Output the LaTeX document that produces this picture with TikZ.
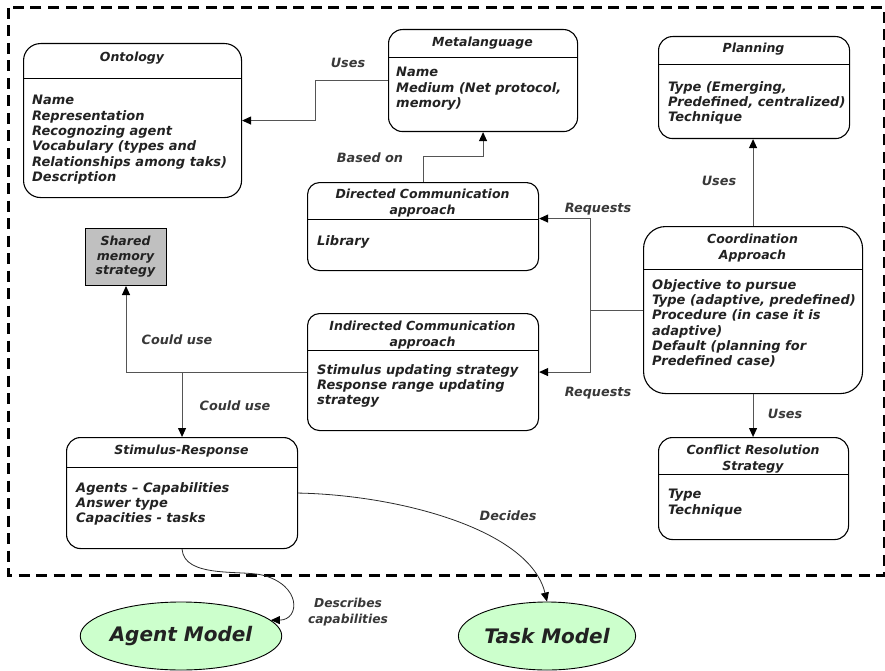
\documentclass[tikz,border=0pt]{standalone}
\usepackage{fontspec}
\setmainfont{DejaVu Sans}
\usetikzlibrary{arrows.meta,shapes.geometric,calc}
\definecolor{ink}{HTML}{222222}
\definecolor{wire}{HTML}{555555}
\definecolor{modelgreen}{HTML}{CCFFCC}
\definecolor{sharedgray}{HTML}{C0C0C0}

\begin{document}
\begin{tikzpicture}[x=1pt,y=-1pt,
  every node/.style={font=\fontsize{12.5}{15.4}\selectfont\bfseries\itshape, text=ink, inner sep=0pt},
  classbox/.style={draw=black, line width=1.1pt, rounded corners=#1, anchor=north west, fill=white},
  sepline/.style={draw=black, line width=1pt},
  boxtitle/.style={anchor=north, align=center},
  boxbody/.style={anchor=north west, align=left, font=\fontsize{13}{15.4}\selectfont\bfseries\itshape},
  model/.style={ellipse, draw=black, line width=0.9pt, fill=modelgreen, font=\fontsize{20}{24}\selectfont\bfseries\itshape},
  conn/.style={draw=wire, line width=1pt, -{Triangle[length=9pt,width=8pt,color=black]}},
  link/.style={conn, draw=wire!50!black},
  plainwire/.style={draw=wire, line width=1pt},
  lbl/.style={text=ink!90!white, align=center, font=\fontsize{12.8}{15.5}\selectfont\bfseries\itshape},
  frame/.style={draw=black, line width=3pt, dash pattern=on 11pt off 6.5pt}
]
\useasboundingbox (0,0) rectangle (885,671);

% outer dashed boundary
\draw[frame] (8,8) rectangle (884,575);

% ---- Ontology
\node[classbox=17, minimum width=218pt, minimum height=154pt] (onto) at (23,43) {};
\draw[sepline] ([yshift=-36pt]onto.north west) -- ([yshift=-36pt]onto.north east);
\node[boxtitle] (onto-t) at (132,52) {Ontology};
\node[boxbody] (onto-b) at (32,95) {Name\\Representation\\Recognozing agent\\Vocabulary (types and\\Relationships among taks)\\Description};

% ---- Metalanguage
\node[classbox=14, minimum width=189pt, minimum height=102pt] (meta) at (388,29) {};
\draw[sepline] ([yshift=-29pt]meta.north west) -- ([yshift=-29pt]meta.north east);
\node[boxtitle] (meta-t) at (482.5,37) {Metalanguage};
\node[boxbody] (meta-b) at (396,67) {Name\\Medium (Net protocol,\\memory)};

% ---- Planning
\node[classbox=14, minimum width=191pt, minimum height=102pt] (plan) at (658,36) {};
\draw[sepline] ([yshift=-29pt]plan.north west) -- ([yshift=-29pt]plan.north east);
\node[boxtitle] (plan-t) at (753.5,43) {Planning};
\node[boxbody] (plan-b) at (668,81) {Type (Emerging,\\Predefined, centralized)\\Technique};

% ---- Directed communication
\node[classbox=12, minimum width=231pt, minimum height=88pt] (dca) at (307,182) {};
\draw[sepline] ([yshift=-37pt]dca.north west) -- ([yshift=-37pt]dca.north east);
\node[boxtitle] (dca-t) at (422.5,189) {Directed Communication\\approach};
\node[boxbody] (dca-b) at (317,235) {Library};

% ---- Indirected communication
\node[classbox=12, minimum width=231pt, minimum height=117pt] (ica) at (307,313) {};
\draw[sepline] ([yshift=-37pt]ica.north west) -- ([yshift=-37pt]ica.north east);
\node[boxtitle] (ica-t) at (422.5,321) {Indirected Communication\\approach};
\node[boxbody] (ica-b) at (317,364) {Stimulus updating strategy\\Response range updating\\strategy};

% ---- Shared memory
\node[draw=black, line width=1pt, fill=sharedgray, anchor=north west, minimum width=81pt, minimum height=57pt] (smem) at (85,228) {};
\node[boxtitle, font=\fontsize{12.5}{14.5}\selectfont\bfseries\itshape] (smem-t) at (125.5,236) {Shared\\memory\\strategy};

% ---- Coordination
\node[classbox=22, minimum width=219pt, minimum height=167pt] (coord) at (643,226) {};
\draw[sepline] ([yshift=-43pt]coord.north west) -- ([yshift=-43pt]coord.north east);
\node[boxtitle] (coord-t) at (752.5,234) {Coordination\\Approach};
\node[boxbody, font=\fontsize{13}{15.2}\selectfont\bfseries\itshape] (coord-b) at (652,279.5) {Objective to pursue\\Type (adaptive, predefined)\\Procedure (in case it is\\adaptive)\\Default (planning for\\Predefined case)};

% ---- Conflict resolution
\node[classbox=14, minimum width=190pt, minimum height=102pt] (conf) at (658,437) {};
\draw[sepline] ([yshift=-37pt]conf.north west) -- ([yshift=-37pt]conf.north east);
\node[boxtitle] (conf-t) at (753,445) {Conflict Resolution\\Strategy};
\node[boxbody] (conf-b) at (668,489) {Type\\Technique};

% ---- Stimulus-Response
\node[classbox=14, minimum width=231pt, minimum height=111pt] (stim) at (66,437) {};
\draw[sepline] ([yshift=-30pt]stim.north west) -- ([yshift=-30pt]stim.north east);
\node[boxtitle] (stim-t) at (181.5,445) {Stimulus-Response};
\node[boxbody] (stim-b) at (76,482) {Agents – Capabilities\\Answer type\\Capacities - tasks};

% ---- Models
\node[model, minimum width=170pt, minimum height=68pt] (agent) at (181,636) {Agent Model};
\node[model, minimum width=172pt, minimum height=68pt] (task) at (547,636) {Task Model};

% ---- Connectors
\draw[conn] (meta.west) -- ++(-73,0) |- (onto.east);
\draw[conn] (dca.north) -- ++(0,-25) -| (meta.south);
\draw[plainwire] (coord.west) -- ++(-53,0) coordinate (reqfork);
\draw[conn] (reqfork) |- ([yshift=8pt]dca.east);
\draw[conn] (reqfork) |- (ica.east);
\draw[conn] (coord.north) -- (coord.north |- plan.south);
\draw[conn] (coord.south) -- (coord.south |- conf.north);
\draw[conn] (ica.west) -| (smem.south);
\draw[conn] (stim.north |- ica.west) -- (stim.north);
\draw[link, line width=0.8pt] (stim.east) .. controls (400,495) and (530,530) .. (task.north);
\draw[link, line width=0.8pt] (stim.south) .. controls (184,578) and (240,570) .. (262,575)
      .. controls (302,585) and (300,620) .. (agent.10);

% ---- Connector labels
\node[lbl] (l-uses1) at (348,63) {Uses};
\node[lbl] (l-based) at (370,158) {Based on};
\node[lbl] (l-req1) at (598,209) {Requests};
\node[lbl] (l-req2) at (598,393) {Requests};
\node[lbl] (l-uses2) at (719,181) {Uses};
\node[lbl] (l-uses3) at (785,414) {Uses};
\node[lbl] (l-could1) at (177,340) {Could use};
\node[lbl] (l-could2) at (235,406) {Could use};
\node[lbl] (l-decides) at (508,516) {Decides};
\node[lbl, font=\fontsize{12.3}{15.5}\selectfont\bfseries\itshape] (l-describes) at (348,612) {Describes\\capabilities};
\end{tikzpicture}
\end{document}
